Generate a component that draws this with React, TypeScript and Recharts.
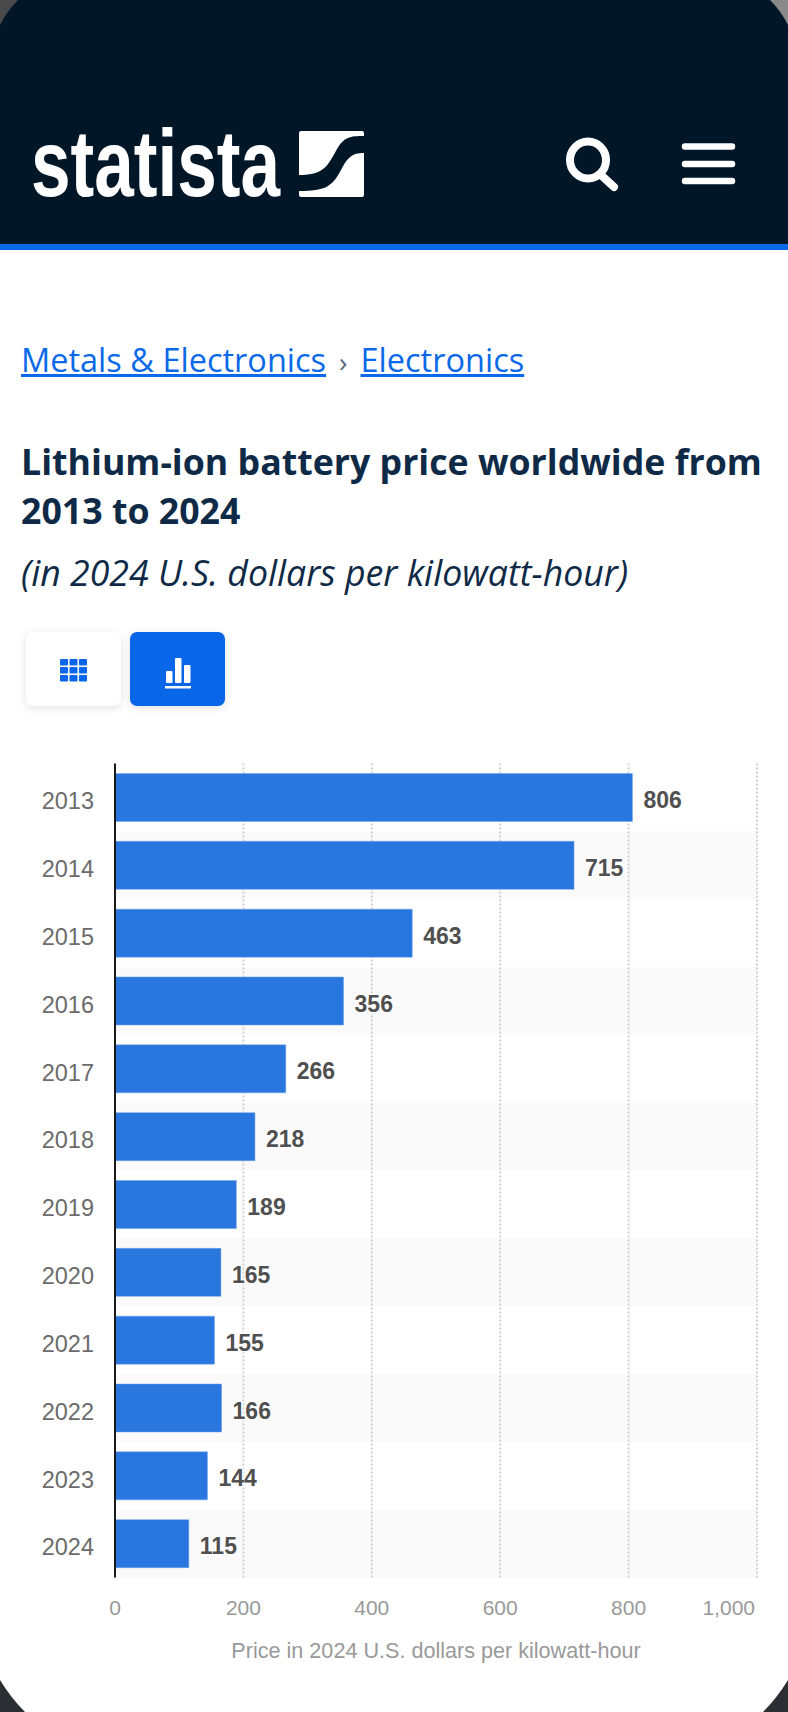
import { BarChart, Bar, XAxis, YAxis, CartesianGrid, ReferenceArea, LabelList } from "recharts";

const years = ["2013", "2014", "2015", "2016", "2017", "2018", "2019", "2020", "2021", "2022", "2023", "2024"];
const prices = [806, 715, 463, 356, 266, 218, 189, 165, 155, 166, 144, 115];
const xTicks = [0, 200, 400, 600, 800, 1000];
const stripedYears = ["2014", "2016", "2018", "2020", "2022", "2024"];

const chartData = years.map((year, i) => ({ year, price: prices[i] }));

const ARIAL = "'Liberation Sans', Arial, sans-serif";
const OPEN = "'Open Sans', sans-serif";

// last tick ("1,000") sits inside the plot, so it gets anchored by its end
const XTick = ({ x, y, payload }: any) => (
    <text
        x={payload.value === 1000 ? x - 2 : x}
        y={y + 2}
        textAnchor={payload.value === 1000 ? "end" : "middle"}
        dominantBaseline="central"
        fontFamily={ARIAL}
        fontSize={21}
        fill="#999999"
    >
        {payload.value.toLocaleString("en-US")}
    </text>
);

const Header = () => (
    <div style={{ position: "absolute", left: 0, top: 0, width: 788, height: 250, background: "#011627", borderBottom: "6px solid #0a69e8", boxSizing: "border-box" }}>
        <svg width={788} height={244} style={{ position: "absolute", left: 0, top: 0 }}>
            <text x={31} y={196} fontFamily="'Liberation Sans Narrow', 'Liberation Sans', sans-serif" fontWeight={700} fontSize={94} fill="#ffffff" textLength={249} lengthAdjust="spacingAndGlyphs">
                statista
            </text>
            <rect x={299} y={131} width={65} height={66} rx={2} fill="#ffffff" />
            <path d="M299 175 C325 175 328 165 337 149 C344 137 350 136 364 136 L364 153 C352 153 348 157 341 170 C332 187 325 191 299 191 Z" fill="#011627" />
            <ellipse cx={588} cy={160} rx={18} ry={18.5} fill="none" stroke="#ffffff" strokeWidth={8} />
            <path d="M601 175 L614 187" stroke="#ffffff" strokeWidth={8} strokeLinecap="round" />
            <path d="M685 146.5 H732 M685 164 H732 M685 181 H732" stroke="#ffffff" strokeWidth={6.5} strokeLinecap="round" />
        </svg>
    </div>
);

const Heading = () => (
    <div style={{ color: "#0f2a47", fontFamily: OPEN }}>
        <div style={{ position: "absolute", left: 21, top: 338, fontSize: 32.5, lineHeight: "44px", color: "#0a69e8", whiteSpace: "nowrap" }}>
            <span style={{ textDecoration: "underline" }}>Metals &amp; Electronics</span>
            <span style={{ color: "#5b6b7b", fontSize: 28, margin: "0 13px" }}>›</span>
            <span style={{ textDecoration: "underline" }}>Electronics</span>
        </div>
        <div style={{ position: "absolute", left: 21, top: 437, fontSize: 35.7, fontWeight: 700, lineHeight: "49px", whiteSpace: "nowrap" }}>
            Lithium-ion battery price worldwide from<br />2013 to 2024
        </div>
        <div style={{ position: "absolute", left: 21, top: 548, fontSize: 35.7, fontStyle: "italic", lineHeight: "48px", whiteSpace: "nowrap" }}>
            (in 2024 U.S. dollars per kilowatt-hour)
        </div>
        <div style={{ position: "absolute", left: 26, top: 632, width: 95, height: 74, borderRadius: 7, background: "#ffffff", boxShadow: "0 2px 8px rgba(0,0,0,0.12)" }}>
            <svg width={95} height={74}>
                {[0, 1, 2].map((c) =>
                    [0, 1, 2].map((r) => <rect key={`${c}${r}`} x={34 + c * 9.5} y={27 + r * 8} width={8} height={6.5} rx={1} fill="#0a66e8" />)
                )}
            </svg>
        </div>
        <div style={{ position: "absolute", left: 130, top: 632, width: 95, height: 74, borderRadius: 7, background: "#0a66e8", boxShadow: "0 2px 8px rgba(0,0,0,0.12)" }}>
            <svg width={95} height={74}>
                <rect x={36} y={39} width={6.5} height={12} rx={1} fill="#ffffff" />
                <rect x={45} y={26} width={6.5} height={25} rx={1} fill="#ffffff" />
                <rect x={54} y={33} width={6.5} height={18} rx={1} fill="#ffffff" />
                <rect x={35} y={54} width={26} height={2.5} fill="#ffffff" />
            </svg>
        </div>
    </div>
);

const Corners = () => (
    <svg width={788} height={1712} style={{ position: "absolute", left: 0, top: 0, pointerEvents: "none" }}>
        <path d="M0 0 L18 0 Q7 11 0 25 Z" fill="#4a4a4a" />
        <path d="M788 0 L770 0 Q781 11 788 25 Z" fill="#8a8a8a" />
        <path d="M0 1680 Q11 1698 25 1712 L0 1712 Z" fill="#2b2e33" />
        <path d="M788 1680 Q777 1698 763 1712 L788 1712 Z" fill="#2b2e33" />
    </svg>
);

export default function App() {
    return (
        <div style={{ position: "absolute", left: 0, top: 0, width: 788, height: 1712, background: "#ffffff", overflow: "hidden" }}>
            <Header />
            <Heading />
            <div style={{ position: "absolute", left: 0, top: 740 }}>
                <BarChart
                    width={788}
                    height={940}
                    data={chartData}
                    layout="vertical"
                    margin={{ top: 23.5, right: 31, bottom: 12.5, left: 0 }}
                    barSize={48}
                >
                    {stripedYears.map((y) => (
                        <ReferenceArea key={y} y1={y} y2={y} fill="#fafafa" fillOpacity={1} stroke="none" zIndex={-200} />
                    ))}
                    <CartesianGrid horizontal={false} stroke="#d0d0d0" strokeWidth={2} strokeDasharray="2 2" />
                    <XAxis
                        type="number"
                        domain={[0, 1000]}
                        ticks={xTicks}
                        interval={0}
                        height={90}
                        axisLine={false}
                        tickLine={false}
                        tick={<XTick />}
                        tickMargin={22}
                        label={{
                            value: "Price in 2024 U.S. dollars per kilowatt-hour",
                            position: "insideBottom",
                            offset: 10,
                            fontFamily: ARIAL,
                            fontSize: 21.6,
                            fill: "#999999",
                        }}
                    />
                    <YAxis
                        type="category"
                        dataKey="year"
                        width={115}
                        interval={0}
                        axisLine={{ stroke: "#1a1a1a", strokeWidth: 2 }}
                        tickLine={false}
                        tickMargin={15}
                        tick={{ fontFamily: ARIAL, fontSize: 23.5, fill: "#6b6b6b", dy: 3.5 }}
                    />
                    <Bar dataKey="price" fill="#2976de" stroke="#6fa3ea" strokeWidth={0.5} isAnimationActive={false}>
                        <LabelList
                            dataKey="price"
                            position="right"
                            offset={11}
                            dy={2.5}
                            style={{ fontFamily: ARIAL, fontSize: 23, fontWeight: 700, fill: "#505050", paintOrder: "stroke", stroke: "#ffffff", strokeWidth: 3 }}
                        />
                    </Bar>
                </BarChart>
            </div>
            <Corners />
        </div>
    );
}
